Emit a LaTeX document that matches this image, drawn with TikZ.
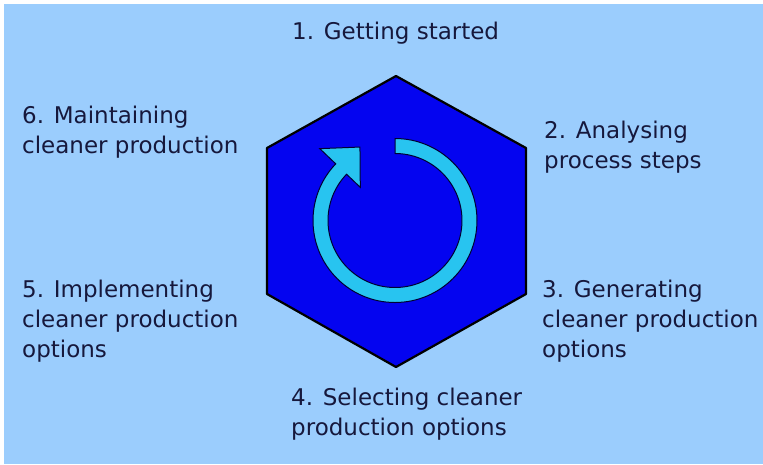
\documentclass[tikz,border=0pt]{standalone}
\usepackage{fontspec}
\setmainfont{DejaVu Sans}
\definecolor{fundo}{RGB}{155,205,253}
\definecolor{hexazul}{RGB}{4,4,240}
\definecolor{seta}{RGB}{40,196,240}
\definecolor{texto}{RGB}{22,24,60}
\begin{document}
\begin{tikzpicture}[x=1pt,y=1pt,
  etapa/.style={anchor=base west,inner sep=0pt,align=left,text=texto,
    font=\fontsize{23}{30}\selectfont}]
\useasboundingbox (0,0) rectangle (763,-464);
\fill[fundo] (4,-4) rectangle (763,-464);
% hexagono
\draw[line width=2.2pt, line join=round, fill=hexazul]
  (396,-76)--(526,-148)--(526,-294)--(396,-367)--(267,-294)--(267,-148)--cycle;
% seta circular (sentido horario)
\begin{scope}[shift={(395,-220.5)}]
\draw[fill=seta, draw=black!80!blue, line width=1pt]
  (90:82) arc[start angle=90, end angle=-223.7, radius=82]
  --(136.3:104)--(115.5:81.4)--(136.3:48)
  --(136.3:67) arc[start angle=-223.7, end angle=90, radius=67]--cycle;
\end{scope}
% etapas (base = ultima linha)
\node[etapa] (e1) at (292,-39.5) {1. Getting started};
\node[etapa] (e2) at (544,-168) {2. Analysing\\process steps};
\node[etapa] (e3) at (542,-357) {3. Generating\\cleaner production\\options};
\node[etapa] (e4) at (291,-435) {4. Selecting cleaner\\production options};
\node[etapa] (e5) at (22,-357) {5. Implementing\\cleaner production\\options};
\node[etapa] (e6) at (22,-153) {6. Maintaining\\cleaner production};
\end{tikzpicture}
\end{document}
